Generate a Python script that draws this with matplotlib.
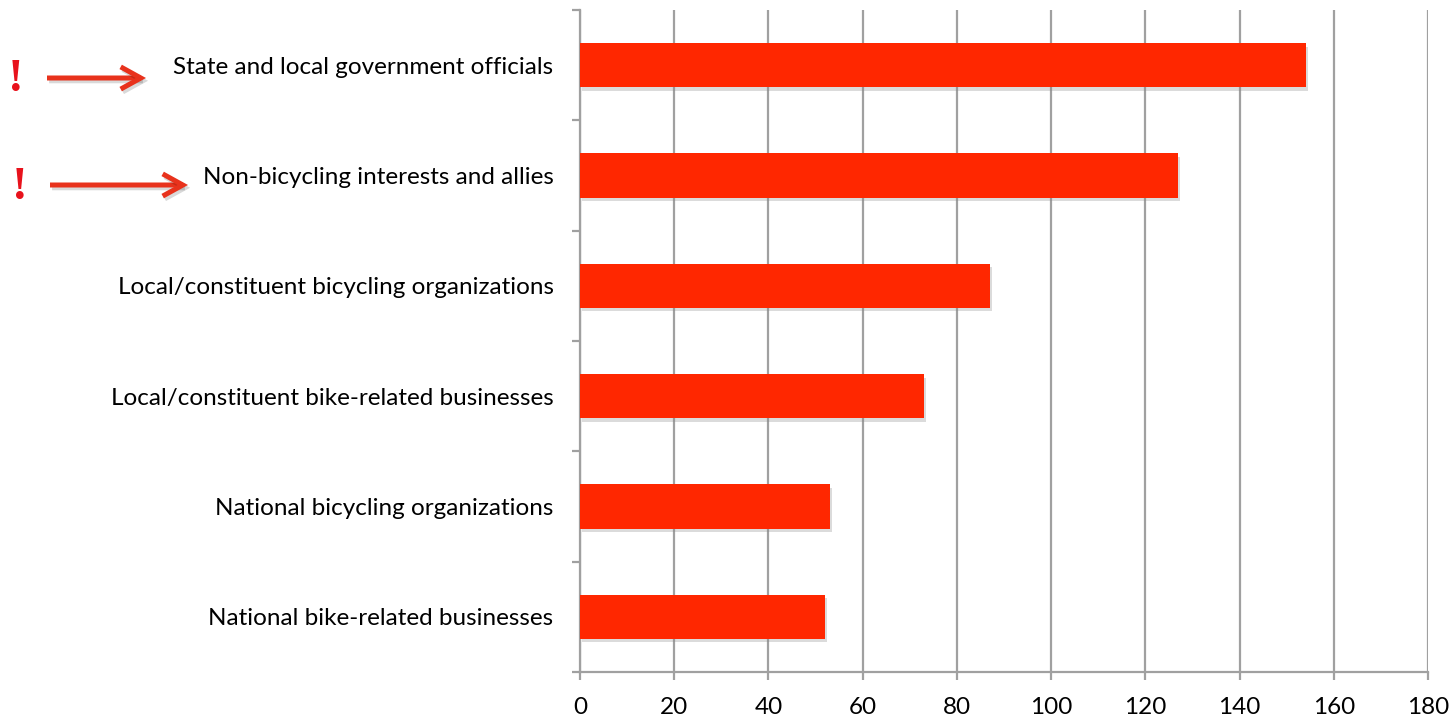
import matplotlib
matplotlib.use("Agg")
import matplotlib.pyplot as plt
import matplotlib.patheffects as pe
import numpy as np

categories = [
    "State and local government officials",
    "Non-bicycling interests and allies",
    "Local/constituent bicycling organizations",
    "Local/constituent bike-related businesses",
    "National bicycling organizations",
    "National bike-related businesses",
]
values = [154, 127, 87, 73, 53, 52]
xticks = [0, 20, 40, 60, 80, 100, 120, 140, 160, 180]
flagged = [0, 1]

W, H = 1451, 718
fig = plt.figure(figsize=(W / 100, H / 100), dpi=100)
plt.rcParams['font.family'] = ['Lato', 'DejaVu Sans']
ax = fig.add_axes([580 / W, 1 - 672 / H, (1428 - 580) / W, (672 - 10) / H])

n = len(categories)
ypos = np.arange(n)[::-1]
bar_color = '#FF2700'
bars = ax.barh(ypos, values, height=0.4, color=bar_color, zorder=3,
               path_effects=[pe.SimplePatchShadow(offset=(1.5, -2.5), shadow_rgbFace='#888888', alpha=0.3), pe.Normal()])

ax.set_xlim(0, 180)
ax.set_ylim(-0.5, n - 0.5)
ax.set_xticks(xticks)
ax.set_xticklabels([str(t) for t in xticks], fontsize=17.5)
ax.set_yticks(ypos)
ax.set_yticklabels(categories, fontsize=17.5)
ax.set_yticks(np.arange(-0.5, n, 1.0), minor=True)

grid_c = '#a0a0a0'
ax.grid(axis='x', color=grid_c, linewidth=1.6, zorder=0)
ax.set_axisbelow(True)
for s in ['top', 'right']:
    ax.spines[s].set_visible(False)
ax.spines['left'].set_color(grid_c)
ax.spines['bottom'].set_color(grid_c)
ax.spines['left'].set_linewidth(1.6)
ax.spines['bottom'].set_linewidth(1.6)
ax.tick_params(axis='y', which='major', length=0, pad=19)
ax.tick_params(axis='y', which='minor', length=6, width=1.6, color=grid_c)
ax.tick_params(axis='x', which='major', length=6, width=1.6, color=grid_c, pad=12)

# annotations: exclamation marks and arrows for flagged rows
arrow_c = '#E8321C'
marks = [((16, 80), (47, 78), (146, 78)), ((20, 188), (50, 185), (188, 185))]
for (ex, (x0, y0), (x1, y1)) in marks:
    fig.text(ex[0] / W, 1 - ex[1] / H, '!', color='#E8121C', fontsize=34, fontweight='bold',
             family='Liberation Serif', ha='center', va='center')
    ax.annotate('', xy=(x1 / W, 1 - y1 / H), xytext=(x0 / W, 1 - y0 / H),
                xycoords='figure fraction', textcoords='figure fraction',
                arrowprops=dict(arrowstyle='->,head_length=1.45,head_width=0.8', color=arrow_c,
                                linewidth=3.6, shrinkA=0, shrinkB=0, joinstyle='miter', capstyle='butt',
                                path_effects=[pe.SimpleLineShadow(offset=(1.5, -2), alpha=0.15), pe.Normal()]),
                annotation_clip=False)

fig.savefig('out.png', dpi=100, facecolor='white')
